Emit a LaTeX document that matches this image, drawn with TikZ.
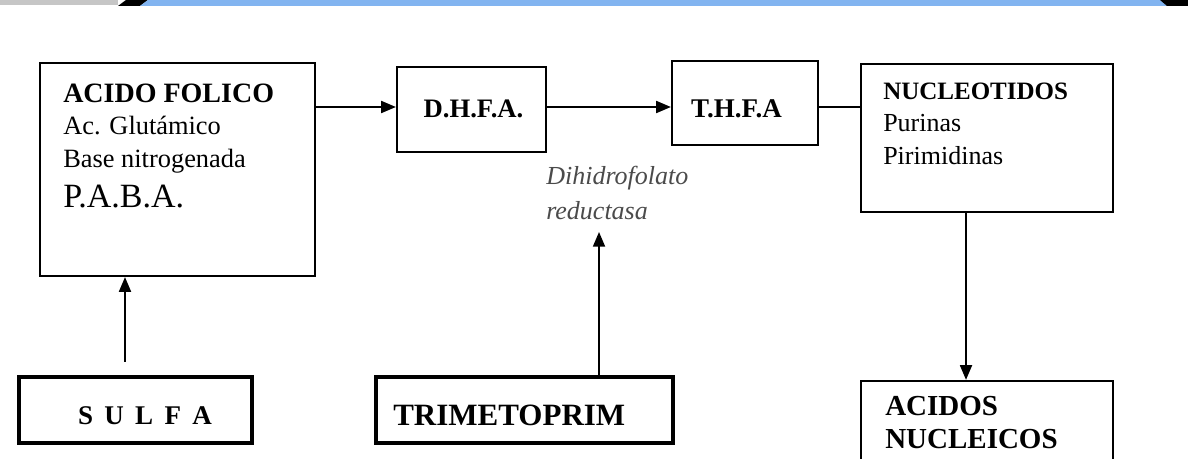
\documentclass[tikz,border=0pt]{standalone}
\usepackage{fontspec}
\setmainfont{Liberation Serif}
\usetikzlibrary{arrows.meta}
\definecolor{bandblue}{RGB}{130,180,240}
\definecolor{enzgray}{RGB}{75,75,75}
\newcommand\fsz[1]{\fontsize{#1}{#1}\selectfont}
\begin{document}
\begin{tikzpicture}[x=0.75pt,y=-0.75pt]
\tikzset{
  box/.style={draw=black, line width=1.7pt, inner sep=0pt},
  thickbox/.style={draw=black, line width=3pt, inner sep=0pt},
  arr/.style={line width=1.3pt, -{Triangle[length=11pt,width=9pt]}},
  conn/.style={line width=1.3pt},
  txt/.style={anchor=base west, inner sep=0pt},
  ctxt/.style={anchor=base, inner sep=0pt},
}
\useasboundingbox (0,0) rectangle (1188,459);
\clip (0,0) rectangle (1188,459);
\fill[white] (0,0) rectangle (1188,459);
% top band
\fill[gray!45] (0,0) rectangle (118,5);
\fill[black] (118,6) -- (126,0) -- (148,0) -- (140,6) -- cycle;
\fill[bandblue] (140,6) -- (148,0) -- (1160,0) -- (1167,6) -- cycle;
\fill[black] (1167,6) -- (1160,0) -- (1188,0) -- (1188,6) -- cycle;
% boxes
\node[box, minimum width=206.25pt, minimum height=159.75pt] (acido) at (177.5,169.5) {};
\node[box, minimum width=111.75pt, minimum height=63.75pt] (dhfa) at (471.5,109.5) {};
\node[box, minimum width=109.5pt, minimum height=63pt] (thfa) at (745,103) {};
\node[box, minimum width=189pt, minimum height=111pt] (nuc) at (987,138) {};
\node[box, minimum width=189pt, minimum height=75pt] (acidos) at (987,431) {};
\node[thickbox, minimum width=174.75pt, minimum height=49.5pt] (sulfa) at (135.5,410) {};
\node[thickbox, minimum width=222.75pt, minimum height=49.5pt] (trim) at (524.5,410) {};
% texts
\node[txt, font=\fsz{21pt}\bfseries] (acidoA) at (63,103) {ACIDO FOLICO};
\node[txt, font=\fsz{19.8pt}] (acidoB) at (63,135) {Ac. Glutámico};
\node[txt, font=\fsz{19.8pt}] (acidoC) at (63,168) {Base nitrogenada};
\node[txt, font=\fsz{25.5pt}] (acidoD) at (63,208) {P.A.B.A.};
\node[ctxt, font=\fsz{20pt}\bfseries] (dhfaT) at (473.5,118) {D.H.F.A.};
\node[ctxt, font=\fsz{20.25pt}\bfseries] (thfaT) at (736.5,118) {T.H.F.A};
\node[txt, font=\fsz{18.75pt}\bfseries] (nucA) at (883,100) {NUCLEOTIDOS};
\node[txt, font=\fsz{19.5pt}] (nucB) at (883,132) {Purinas};
\node[txt, font=\fsz{19.5pt}] (nucC) at (883,165) {Pirimidinas};
\node[txt, font=\fsz{21.75pt}\bfseries] (acidosA) at (885,415) {ACIDOS};
\node[txt, font=\fsz{21.75pt}\bfseries] (acidosB) at (885,448) {NUCLEICOS};
\node[ctxt, font=\fsz{20.25pt}\bfseries] (sulfaT) at (145,424) {S\hskip 8.5pt U\hskip 8.5pt L\hskip 8.5pt F\hskip 8.5pt A};
\node[txt, font=\fsz{23.25pt}\bfseries] (trimT) at (393,425) {TRIMETOPRIM};
\node[txt, font=\fsz{19.5pt}\itshape, text=enzgray] (enzA) at (546,185) {Dihidrofolato};
\node[txt, font=\fsz{19.5pt}\itshape, text=enzgray] (enzB) at (546,220) {reductasa};
% helper coordinates
\coordinate (rowA) at (0,107);
\coordinate (colN) at (966,0);
\coordinate (colT) at (599,0);
\coordinate (enzTip) at (599,232);
\coordinate (sulfaTail) at (125,362);
% connectors
\draw[arr] (acido.east |- rowA) -- (dhfa.west |- rowA);
\draw[arr] (dhfa.east |- rowA) -- (thfa.west |- rowA);
\draw[conn] (thfa.east |- rowA) -- (nuc.west |- rowA);
\draw[arr] (nuc.south -| colN) -- (acidos.north -| colN);
\draw[arr] (trim.north -| colT) -- (enzTip);
\draw[arr] (sulfaTail) -- (sulfaTail |- acido.south);
\end{tikzpicture}
\end{document}
